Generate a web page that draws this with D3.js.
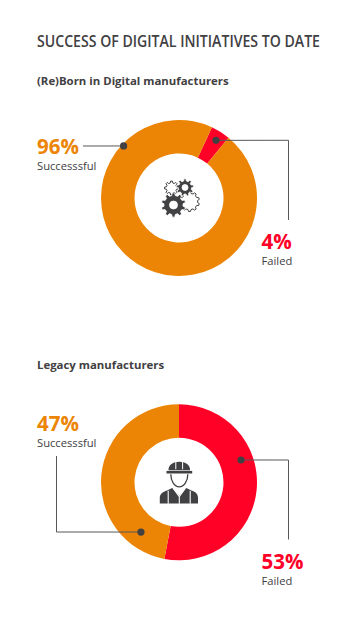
<!DOCTYPE html>
<html>
<head>
<meta charset="utf-8">
<script src="https://d3js.org/d3.v7.min.js"></script>
<style>
  html, body { margin: 0; padding: 0; background: #fff; }
  svg { display: block; }
  text { font-family: "Open Sans", "Noto Sans", sans-serif; }
</style>
</head>
<body>
<div id="chart"></div>
<script>
const categories = ["Failed", "Successsful"];
const bornValues = [4, 96];
const legacyValues = [53, 47];
const titleText = "SUCCESS OF DIGITAL INITIATIVES TO DATE";
const subtitles = ["(Re)Born in Digital manufacturers", "Legacy manufacturers"];

const width = 352, height = 619;
const orange = "#ec8505", red = "#ff0027", ink = "#414042", lineCol = "#58585a";
const rOuter = 78, rInner = 44.5;

const svg = d3.select("#chart").append("svg")
  .attr("width", width)
  .attr("height", height)
  .attr("viewBox", `0 0 ${width} ${height}`);

const color = d3.scaleOrdinal().domain(categories).range([red, orange]);
const arc = d3.arc().innerRadius(rInner).outerRadius(rOuter);
const rad = d => d * Math.PI / 180;

svg.append("text")
  .attr("x", 37).attr("y", 47)
  .attr("font-size", 16).attr("font-weight", 600)
  .attr("fill", ink)
  .attr("textLength", 283).attr("lengthAdjust", "spacingAndGlyphs")
  .text(titleText);

// one gear outline, teeth as a stepped ring
function gearPath(teeth, ro, ri, hole) {
  let p = "";
  const step = Math.PI * 2 / teeth;
  for (let i = 0; i < teeth; i++) {
    const a = i * step;
    [[a - step * 0.3, ri], [a - step * 0.16, ro], [a + step * 0.16, ro], [a + step * 0.3, ri]]
      .forEach(([t, r], j) => {
        p += `${i === 0 && j === 0 ? "M" : "L"}${r * Math.sin(t)},${-r * Math.cos(t)}`;
      });
  }
  p += "Z";
  if (hole) p += `M${hole},0A${hole},${hole} 0 1,0 ${-hole},0A${hole},${hole} 0 1,0 ${hole},0Z`;
  return p;
}

function drawGears(g) {
  [[-7.5, -10, 7, 8], [10.5, 3.5, 10, 10]].forEach(([x, y, ro, teeth]) => {
    g.append("path")
      .attr("transform", `translate(${x},${y})`)
      .attr("d", gearPath(teeth, ro, ro - 1.8))
      .attr("fill", "#fff").attr("stroke", ink).attr("stroke-width", 1);
  });
  g.append("path")
    .attr("transform", "translate(6,-10.5)")
    .attr("d", gearPath(9, 8.8, 6.6, 3))
    .attr("fill", ink).attr("fill-rule", "evenodd")
    .attr("stroke", "#fff").attr("stroke-width", 0.8);
  g.append("path")
    .attr("transform", "translate(-5.5,7)")
    .attr("d", gearPath(10, 12.2, 9.6, 4))
    .attr("fill", ink).attr("fill-rule", "evenodd")
    .attr("stroke", "#fff").attr("stroke-width", 0.8);
}

function drawWorker(g) {
  // helmet
  g.append("path")
    .attr("d", "M-10.5,-12.5C-10.5,-17.5 -6,-20.5 0.3,-20.5C6.5,-20.5 11,-17.5 11,-12.5L11,-12L-10.5,-12Z")
    .attr("fill", ink);
  g.append("path")
    .attr("d", "M-3.2,-21V-13M3.6,-21V-13")
    .attr("stroke", "#fff").attr("stroke-width", 1).attr("fill", "none");
  g.append("path")
    .attr("d", "M-12.5,-11.4H13.2V-8.8H-12.5Z")
    .attr("fill", ink);
  // face
  g.append("path")
    .attr("d", "M-8.2,-8C-8.2,-1 -4.5,4.5 0.3,4.5C5,4.5 8.8,-1 8.8,-8")
    .attr("fill", "#fff").attr("stroke", ink).attr("stroke-width", 1.3);
  // body
  g.append("path")
    .attr("d", "M-19.2,21.3V15.5C-19.2,11.5 -16,9.6 -12,8.2L-6.8,5.8L0.3,13.5L7.3,5.8L12.5,8.2C16.5,9.6 19,11.5 19,15.5V21.3Z")
    .attr("fill", ink);
  g.append("path")
    .attr("d", "M-10.8,8.5V21.5M11.2,8.5V21.5M-5.5,6.5L0.3,14.5V21.5M6,6.5L0.3,14.5")
    .attr("stroke", "#fff").attr("stroke-width", 1.1).attr("fill", "none");
}

function drawDonut(cfg) {
  const top = svg.append("g");

  top.append("text")
    .attr("x", 37).attr("y", cfg.subY)
    .attr("font-size", 11.4).attr("font-weight", 700)
    .attr("fill", ink)
    .text(cfg.subtitle);

  const pie = d3.pie().sort(null)
    .startAngle(rad(cfg.start))
    .endAngle(rad(cfg.start + 360));

  const g = top.append("g").attr("transform", `translate(${cfg.cx},${cfg.cy})`);
  const slices = pie(cfg.values);

  g.selectAll("path.slice")
    .data(slices)
    .enter().append("path")
    .attr("class", "slice")
    .attr("d", arc)
    .attr("fill", (d, i) => color(categories[i]));

  cfg.icon(g.append("g"));

  // leaders run from a dot on the ring out to the label
  cfg.leaders.forEach(l => {
    const [dx, dy] = d3.pointRadial(rad(l.angle), l.radius);
    const pts = [[cfg.cx + dx, cfg.cy + dy]].concat(l.path);
    top.append("path")
      .attr("d", d3.line()(pts))
      .attr("fill", "none")
      .attr("stroke", lineCol)
      .attr("stroke-width", 1);
    top.append("circle")
      .attr("cx", cfg.cx + dx).attr("cy", cfg.cy + dy)
      .attr("r", 3.6)
      .attr("fill", ink);
  });

  cfg.labels.forEach(l => {
    top.append("text")
      .attr("x", l.x).attr("y", l.y)
      .attr("font-size", 20.5).attr("font-weight", 700)
      .attr("fill", color(categories[l.i]))
      .text(cfg.values[l.i] + "%");
    top.append("text")
      .attr("x", l.x).attr("y", l.y + 16)
      .attr("font-size", 11.2)
      .attr("fill", ink)
      .text(categories[l.i]);
  });
}

drawDonut({
  subtitle: subtitles[0],
  subY: 85,
  cx: 179, cy: 198,
  start: 25,
  values: bornValues,
  icon: drawGears,
  leaders: [
    { angle: 32.7, radius: 68.5, path: [[288.5, 140.3], [288.5, 220]] },
    { angle: 313.2, radius: 76, path: [[83, 146]] }
  ],
  labels: [{ i: 1, x: 37, y: 154 }, { i: 0, x: 261.5, y: 249 }]
});

drawDonut({
  subtitle: subtitles[1],
  subY: 369,
  cx: 179, cy: 482.3,
  start: 0,
  values: legacyValues,
  icon: drawWorker,
  leaders: [
    { angle: 70.2, radius: 65.9, path: [[288.5, 460], [288.5, 539.5]] },
    { angle: 217.4, radius: 62.6, path: [[56.5, 532], [56.5, 456]] }
  ],
  labels: [{ i: 1, x: 37, y: 431 }, { i: 0, x: 261.5, y: 569 }]
});
</script>
</body>
</html>
